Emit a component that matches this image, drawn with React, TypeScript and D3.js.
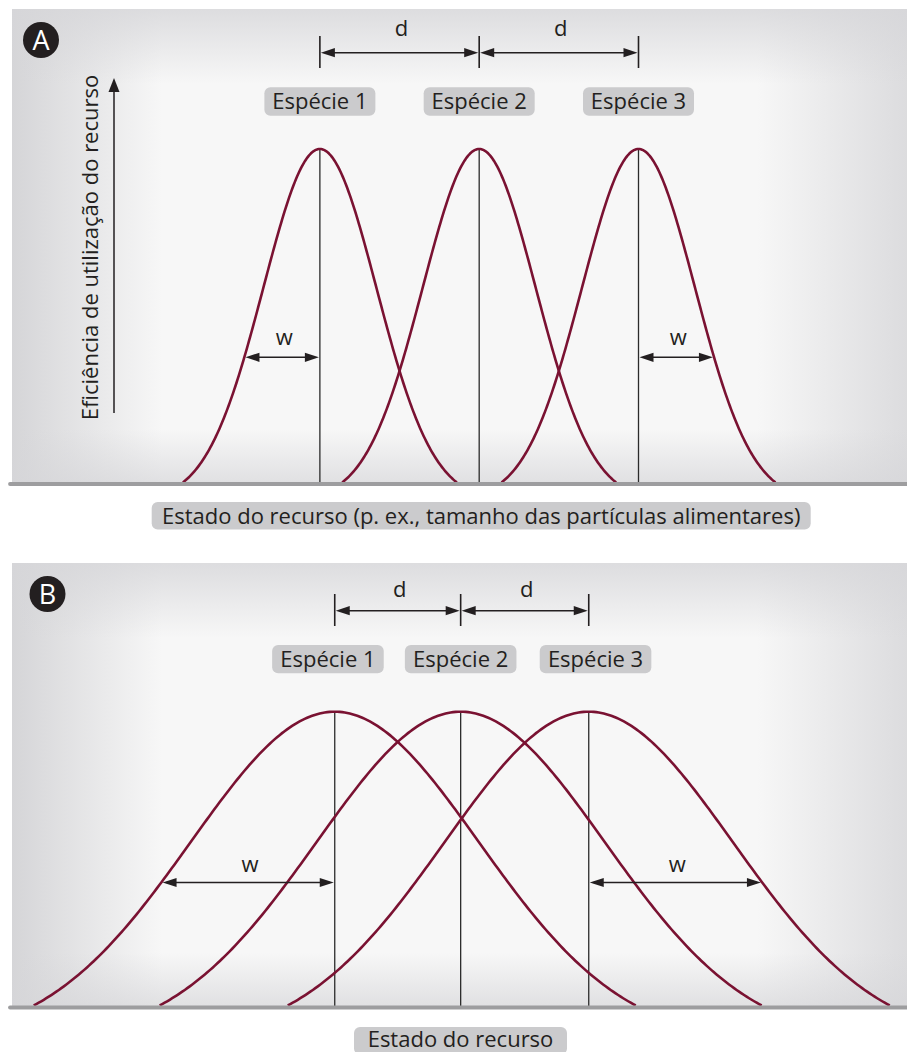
import React, { useEffect, useRef } from "react";
import * as d3 from "d3";

// ---- data ----
const speciesNames = ["Espécie 1", "Espécie 2", "Espécie 3"];
const panelLetters = ["A", "B"];
// niche centres on the resource axis (arbitrary units 0–100)
const centersA = [34.4, 52.2, 70.0];
const centersB = [36.06, 50.13, 64.44];
// niche spread (sigma) and half-width of the utilisation curve at its base
const sigmaA = 6.31;
const sigmaB = 16.09;
const halfWidthA = 15.3;
const halfWidthB = 33.63;
// relative height at which w is measured
const wLevelA = 0.377;
const wLevelB = 0.42;
const xAxisLabels = [
  "Estado do recurso (p. ex., tamanho das partículas alimentares)",
  "Estado do recurso",
];
const yAxisLabel = "Eficiência de utilização do recurso";
const distLabel = "d";
const widthLabel = "w";

const FONT = "'Open Sans', 'Noto Sans', sans-serif";
const INK = "#231f20";
const CURVE = "#7a1232";

type Panel = {
  letter: string;
  centers: number[];
  sigma: number;
  half: number;
  wLevel: number;
  xLabel: string;
  top: number;
  baseline: number;
  curveBase: number;
  peakY: number;
  dTickTop: number;
  dTickBottom: number;
  dArrowY: number;
  dLabelY: number;
  boxY: number;
  boxH: number;
  boxW: number;
  boxSpread: number;
  wArrowY: number;
  wLabelY: number;
  circle: [number, number];
  xLabelBox: [number, number, number, number];
  xLabelTextY: number;
  yLabel: boolean;
};

const panels: Panel[] = [
  {
    letter: panelLetters[0], centers: centersA, sigma: sigmaA, half: halfWidthA, wLevel: wLevelA,
    xLabel: xAxisLabels[0], top: 9, baseline: 484, curveBase: 482.5, peakY: 149,
    dTickTop: 36, dTickBottom: 68, dArrowY: 52.7, dLabelY: 36,
    boxY: 87.3, boxH: 28.4, boxW: 111, boxSpread: 0,
    wArrowY: 357.3, wLabelY: 345, circle: [41, 40],
    xLabelBox: [151.7, 502, 659, 27.5], xLabelTextY: 523.5, yLabel: true,
  },
  {
    letter: panelLetters[1], centers: centersB, sigma: sigmaB, half: halfWidthB, wLevel: wLevelB,
    xLabel: xAxisLabels[1], top: 563, baseline: 1007.5, curveBase: 1005.5, peakY: 711.7,
    dTickTop: 594, dTickBottom: 626, dArrowY: 610.7, dLabelY: 597,
    boxY: 645, boxH: 28.3, boxW: 111.6, boxSpread: 6.8,
    wArrowY: 882.5, wLabelY: 871.7, circle: [47.5, 594],
    xLabelBox: [354, 1027, 213, 27.5], xLabelTextY: 1046.5, yLabel: false,
  },
];

const W = 907;
const H = 1052;

export default function App() {
  const ref = useRef<SVGSVGElement | null>(null);

  useEffect(() => {
    document.body.style.margin = "0";
    const svg = d3.select(ref.current);
    svg.selectAll("*").remove();
    const defs = svg.append("defs");

    const grad = (id: string, x1: number, y1: number, x2: number, y2: number, color: string, op: number) => {
      const g = defs.append("linearGradient").attr("id", id)
        .attr("x1", x1).attr("y1", y1).attr("x2", x2).attr("y2", y2);
      g.append("stop").attr("offset", 0).attr("stop-color", color).attr("stop-opacity", op);
      g.append("stop").attr("offset", 1).attr("stop-color", color).attr("stop-opacity", 0);
    };
    grad("gl", 0, 0, 1, 0, "#cfcfd2", 0.85);
    grad("gr", 1, 0, 0, 0, "#d3d3d6", 0.75);
    grad("gt", 0, 0, 0, 1, "#d6d6d9", 0.8);
    grad("gb", 0, 1, 0, 0, "#d6d6d9", 0.7);

    const arrowHead = (g: any, x: number, y: number, dir: "l" | "r" | "u", len = 14, hw = 4.6) => {
      let p: [number, number][];
      if (dir === "l") p = [[x, y], [x + len, y - hw], [x + len, y + hw]];
      else if (dir === "r") p = [[x, y], [x - len, y - hw], [x - len, y + hw]];
      else p = [[x, y], [x - hw, y + len], [x + hw, y + len]];
      g.append("path").attr("d", "M" + p.map((q) => q.join(",")).join("L") + "Z").attr("fill", INK);
    };

    const dblArrow = (g: any, x1: number, x2: number, y: number) => {
      g.append("line").attr("x1", x1 + 4).attr("x2", x2 - 4).attr("y1", y).attr("y2", y)
        .attr("stroke", INK).attr("stroke-width", 1.6);
      arrowHead(g, x1, y, "l");
      arrowHead(g, x2, y, "r");
    };

    panels.forEach((p) => {
      const g = svg.append("g");
      const x = d3.scaleLinear().domain([0, 100]).range([12, 907]);
      const y = d3.scaleLinear().domain([0, 1]).range([p.curveBase, p.peakY]);

      // background
      const bx = 12, bw = 907 - 12, by = p.top, bh = p.baseline - p.top;
      g.append("rect").attr("x", bx).attr("y", by).attr("width", bw).attr("height", bh).attr("fill", "#f7f7f7");
      g.append("rect").attr("x", bx).attr("y", by).attr("width", 150).attr("height", bh).attr("fill", "url(#gl)");
      g.append("rect").attr("x", 907 - 150).attr("y", by).attr("width", 150).attr("height", bh).attr("fill", "url(#gr)");
      g.append("rect").attr("x", bx).attr("y", by).attr("width", bw).attr("height", 75).attr("fill", "url(#gt)");
      g.append("rect").attr("x", bx).attr("y", p.baseline - 55).attr("width", bw).attr("height", 55).attr("fill", "url(#gb)");

      // panel letter
      g.append("circle").attr("cx", p.circle[0]).attr("cy", p.circle[1]).attr("r", 18).attr("fill", INK);
      g.append("text").attr("x", p.circle[0]).attr("y", p.circle[1] + 9.5).attr("text-anchor", "middle")
        .attr("font-family", FONT).attr("font-size", 27).attr("fill", "#fff").text(p.letter);

      const gh = Math.exp(-(p.half * p.half) / (2 * p.sigma * p.sigma));
      const util = (v: number, c: number) =>
        (Math.exp(-((v - c) * (v - c)) / (2 * p.sigma * p.sigma)) - gh) / (1 - gh);
      const wOff = p.sigma * Math.sqrt(-2 * Math.log(p.wLevel * (1 - gh) + gh));

      // vertical centre lines
      p.centers.forEach((c) => {
        g.append("line").attr("x1", x(c)).attr("x2", x(c)).attr("y1", y(1)).attr("y2", p.baseline)
          .attr("stroke", "#2b2b2b").attr("stroke-width", 1.3);
      });

      // utilisation curves
      const line = d3.line<number[]>().x((d) => x(d[0])).y((d) => y(d[1]));
      p.centers.forEach((c) => {
        const pts = d3.range(0, 241).map((i) => {
          const v = c - p.half + (2 * p.half * i) / 240;
          return [v, Math.max(0, util(v, c))];
        });
        g.append("path").attr("d", line(pts)).attr("fill", "none").attr("stroke", CURVE)
          .attr("stroke-width", 2.6).attr("stroke-linejoin", "round");
      });

      // baseline
      g.append("line").attr("x1", 10).attr("x2", 907).attr("y1", p.baseline).attr("y2", p.baseline)
        .attr("stroke", "#9d9d9f").attr("stroke-width", 3.8).attr("stroke-linecap", "round");

      // d arrows
      p.centers.forEach((c) => {
        g.append("line").attr("x1", x(c)).attr("x2", x(c)).attr("y1", p.dTickTop).attr("y2", p.dTickBottom)
          .attr("stroke", INK).attr("stroke-width", 1.6);
      });
      for (let i = 0; i < p.centers.length - 1; i++) {
        const x1 = x(p.centers[i]) + 1, x2 = x(p.centers[i + 1]) - 1;
        dblArrow(g, x1, x2, p.dArrowY);
        g.append("text").attr("x", (x1 + x2) / 2 + 2).attr("y", p.dLabelY).attr("text-anchor", "middle")
          .attr("font-family", FONT).attr("font-size", 22).attr("fill", INK).text(distLabel);
      }

      // species labels
      p.centers.forEach((c, i) => {
        const cx = x(c) + (i - 1) * p.boxSpread;
        g.append("rect").attr("x", cx - p.boxW / 2).attr("y", p.boxY).attr("width", p.boxW).attr("height", p.boxH)
          .attr("rx", 6).attr("fill", "#cbcbcd");
        g.append("text").attr("x", cx).attr("y", p.boxY + p.boxH / 2 + 7.8).attr("text-anchor", "middle")
          .attr("font-family", FONT).attr("font-size", 22).attr("fill", INK).text(speciesNames[i]);
      });

      // w arrows (left of first species, right of last)
      const cL = x(p.centers[0]);
      const cR = x(p.centers[p.centers.length - 1]);
      const xLo = x(p.centers[0] - wOff);
      const xHi = x(p.centers[p.centers.length - 1] + wOff);
      dblArrow(g, xLo + 1, cL - 1, p.wArrowY);
      dblArrow(g, cR + 1, xHi - 1, p.wArrowY);
      [[xLo, cL], [cR, xHi]].forEach(([a, b]) => {
        g.append("text").attr("x", (a + b) / 2 + 2).attr("y", p.wLabelY).attr("text-anchor", "middle")
          .attr("font-family", FONT).attr("font-size", 22).attr("fill", INK).text(widthLabel);
      });

      // x axis label
      const [lx, ly, lw, lh] = p.xLabelBox;
      g.append("rect").attr("x", lx).attr("y", ly).attr("width", lw).attr("height", lh).attr("rx", 6)
        .attr("fill", "#cbcbcd");
      g.append("text").attr("x", lx + lw / 2).attr("y", p.xLabelTextY).attr("text-anchor", "middle")
        .attr("font-family", FONT).attr("font-size", 22).attr("fill", INK).text(p.xLabel);

      // y axis (panel A only)
      if (p.yLabel) {
        g.append("line").attr("x1", 114).attr("x2", 114).attr("y1", 413).attr("y2", 88)
          .attr("stroke", INK).attr("stroke-width", 1.5);
        arrowHead(g, 114, 78, "u", 14, 5.5);
        g.append("text").attr("transform", "translate(98,247.5) rotate(-90)").attr("text-anchor", "middle")
          .attr("font-family", FONT).attr("font-size", 22).attr("fill", INK).text(yAxisLabel);
      }
    });
  }, []);

  return (
    <svg ref={ref} width={W} height={H} style={{ position: "absolute", left: 0, top: 0, background: "#fff" }} />
  );
}
